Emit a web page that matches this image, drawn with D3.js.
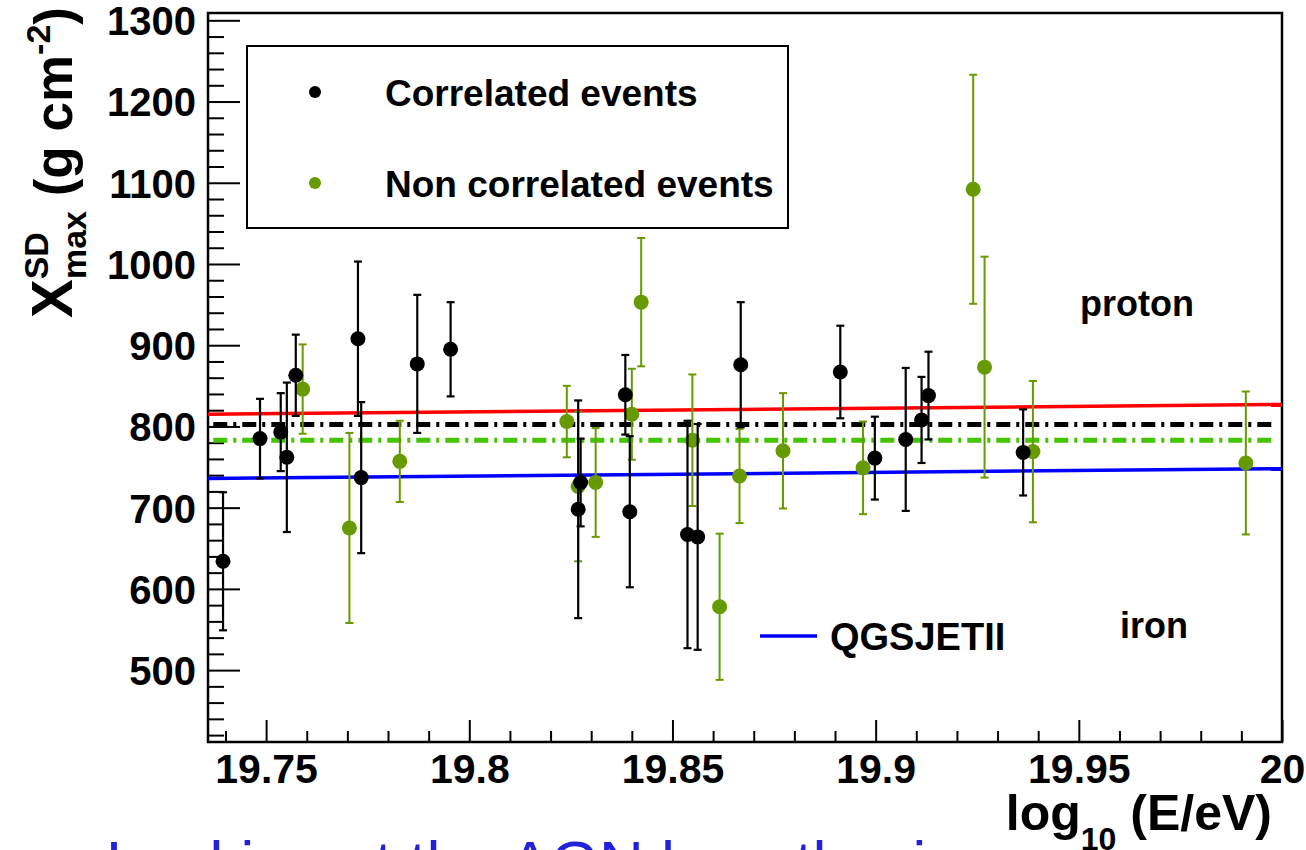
<!DOCTYPE html>
<html>
<head>
<meta charset="utf-8">
<script src="https://cdn.jsdelivr.net/npm/d3@7"></script>
<style>
  html, body { margin: 0; padding: 0; background: #fff; }
  svg { display: block; }
  text { font-family: "Liberation Sans", Arial, Helvetica, sans-serif; font-weight: bold; }
</style>
</head>
<body>
<svg id="chart" width="1306" height="850"></svg>
<script>
// ---------------- DATA ----------------
// Correlated events (black)
const corrX   = [19.7394, 19.7485, 19.7536, 19.7551, 19.7573, 19.7726, 19.7734, 19.7872, 19.7954,
                 19.8268, 19.8274, 19.8384, 19.8395, 19.8537, 19.8562, 19.8668, 19.8913, 19.8998,
                 19.9074, 19.9113, 19.9130, 19.9363];
const corrY   = [634, 785, 793, 762, 863, 908, 737, 877, 895,
                 698, 731, 839, 695, 667, 664, 876, 867, 761,
                 784, 808, 838, 768];
const corrErr = [85, 49, 48, 92, 50, 95, 93, 85, 58,
                 134, 54, 49, 93, 140, 139, 77, 57, 51,
                 88, 53, 54, 53];

// Non correlated events (green)
const nonX   = [19.7590, 19.7705, 19.7829, 19.8240, 19.8268, 19.8311, 19.8400, 19.8423, 19.8549,
                19.8616, 19.8665, 19.8772, 19.8969, 19.9240, 19.9268, 19.9387, 19.9911];
const nonY   = [846, 675, 757, 806, 726, 731, 815, 953, 783,
                578, 739, 770, 749, 1092, 873, 769, 755];
const nonErr = [55, 117, 50, 44, 92, 67, 56, 79, 81,
                90, 58, 71, 57, 141, 136, 87, 88];

// Reference lines
const lineX       = [19.7357, 20.0];
const protonLineY = [815, 827];   // red
const ironLineY   = [736, 748];   // blue (QGSJETII)
const meanX       = [19.737, 19.9985];
const meanCorr    = 802.5;        // black dash-dot
const meanNon     = 783;          // green dash-dot

// Axes
const xDomain = [19.7357, 20.0];
const yDomain = [411.5, 1309];
const xTicks  = [19.75, 19.8, 19.85, 19.9, 19.95, 20];
const xTickLabels = ["19.75", "19.8", "19.85", "19.9", "19.95", "20"];
const yTicks  = [500, 600, 700, 800, 900, 1000, 1100, 1200, 1300];

// Legend / labels
const legendLabels = ["Correlated events", "Non correlated events"];

// ---------------- DRAW ----------------
const svg = d3.select("#chart");
svg.append("rect").attr("width", 1306).attr("height", 850).attr("fill", "#fff");

const L = 208, R = 1282, T = 13, B = 742;
const x = d3.scaleLinear().domain(xDomain).range([L, R]);
const y = d3.scaleLinear().domain(yDomain).range([B, T]);

const BLACK = "#000", GREEN = "#669a00", GREENLINE = "#44c400";

// minor ticks
const yMinor = d3.range(420, 1301, 20).filter(v => v % 100 !== 0);
const xMinor = d3.range(1974, 2000, 1).map(v => v / 100).filter(v => Math.round(v * 100) % 5 !== 0);

svg.append("g").attr("transform", `translate(${L},0)`)
  .call(d3.axisLeft(y).tickValues(yMinor).tickSize(-16).tickFormat(""))
  .call(g => g.select(".domain").remove())
  .selectAll("line").attr("stroke", "#000").attr("stroke-width", 2);

svg.append("g").attr("transform", `translate(0,${B})`)
  .call(d3.axisBottom(x).tickValues(xMinor).tickSize(-11).tickFormat(""))
  .call(g => g.select(".domain").remove())
  .selectAll("line").attr("stroke", "#000").attr("stroke-width", 2);

const yAxis = svg.append("g").attr("transform", `translate(${L},0)`)
  .call(d3.axisLeft(y).tickValues(yTicks).tickSize(-32).tickPadding(12).tickFormat(d3.format("d")));
yAxis.select(".domain").remove();
yAxis.selectAll("line").attr("stroke", "#000").attr("stroke-width", 2);
yAxis.selectAll("text").attr("font-size", 40)
  .attr("font-family", "Liberation Sans, Arial, sans-serif").attr("fill", "#000").attr("dy", "0.36em");

const xAxis = svg.append("g").attr("transform", `translate(0,${B})`)
  .call(d3.axisBottom(x).tickValues(xTicks).tickSize(-22).tickPadding(12)
        .tickFormat((d, i) => xTickLabels[i]));
xAxis.select(".domain").remove();
xAxis.selectAll("line").attr("stroke", "#000").attr("stroke-width", 2);
xAxis.selectAll("text").attr("font-size", 41)
  .attr("font-family", "Liberation Sans, Arial, sans-serif").attr("fill", "#000");

// frame
svg.append("rect").attr("x", L).attr("y", T).attr("width", R - L).attr("height", B - T)
  .attr("fill", "none").attr("stroke", "#000").attr("stroke-width", 2.5);

// model lines
const line = d3.line().x(d => x(d[0])).y(d => y(d[1]));
svg.append("path").attr("d", line(lineX.map((v, i) => [v, protonLineY[i]])))
  .attr("stroke", "#ff0000").attr("stroke-width", 3.5).attr("fill", "none");
svg.append("path").attr("d", line(lineX.map((v, i) => [v, ironLineY[i]])))
  .attr("stroke", "#0000ff").attr("stroke-width", 3.5).attr("fill", "none");

// mean dash-dot lines
svg.append("path").attr("d", line(meanX.map(v => [v, meanCorr])))
  .attr("stroke", BLACK).attr("stroke-width", 5).attr("stroke-dasharray", "14,6,3,6").attr("fill", "none");
svg.append("path").attr("d", line(meanX.map(v => [v, meanNon])))
  .attr("stroke", GREENLINE).attr("stroke-width", 5).attr("stroke-dasharray", "14,6,3,6").attr("fill", "none");

// data series
function drawSeries(xs, ys, es, color, lw) {
  const data = xs.map((v, i) => ({ x: v, y: ys[i], e: es[i] }));
  const g = svg.append("g");
  const eb = g.selectAll("g.eb").data(data).join("g").attr("class", "eb");
  eb.append("line").attr("x1", d => x(d.x)).attr("x2", d => x(d.x))
    .attr("y1", d => y(d.y + d.e)).attr("y2", d => y(d.y - d.e))
    .attr("stroke", color).attr("stroke-width", lw);
  [1, -1].forEach(s => {
    eb.append("line").attr("x1", d => x(d.x) - 4).attr("x2", d => x(d.x) + 4)
      .attr("y1", d => y(d.y + s * d.e)).attr("y2", d => y(d.y + s * d.e))
      .attr("stroke", color).attr("stroke-width", lw);
  });
  g.selectAll("circle").data(data).join("circle")
    .attr("cx", d => x(d.x)).attr("cy", d => y(d.y)).attr("r", 7.5).attr("fill", color);
}
drawSeries(nonX, nonY, nonErr, GREEN, 2);
drawSeries(corrX, corrY, corrErr, BLACK, 2.2);

// legend
svg.append("rect").attr("x", 247).attr("y", 46).attr("width", 541).attr("height", 182)
  .attr("fill", "#fff").attr("stroke", "#000").attr("stroke-width", 2);
[BLACK, GREEN].forEach((c, i) => {
  svg.append("circle").attr("cx", 315).attr("cy", 92 + i * 91).attr("r", 6).attr("fill", c);
  svg.append("text").attr("x", 385).attr("y", 93 + i * 91).attr("dy", "0.36em")
    .attr("font-size", 37).attr("fill", "#000").text(legendLabels[i]);
});

// QGSJETII label
svg.append("line").attr("x1", 760).attr("x2", 817).attr("y1", 636).attr("y2", 636)
  .attr("stroke", "#0000ff").attr("stroke-width", 3.5);
svg.append("text").attr("x", 830).attr("y", 636).attr("dy", "0.36em")
  .attr("font-size", 38).attr("fill", "#000").text("QGSJETII");

svg.append("text").attr("x", 1080).attr("y", 303).attr("dy", "0.36em")
  .attr("font-size", 36).attr("fill", "#000").text("proton");
svg.append("text").attr("x", 1120).attr("y", 625).attr("dy", "0.36em")
  .attr("font-size", 36).attr("fill", "#000").text("iron");

// X axis title
const xt = svg.append("text").attr("x", 1272).attr("y", 830).attr("text-anchor", "end")
  .attr("font-size", 50).attr("fill", "#000");
xt.append("tspan").text("log");
xt.append("tspan").attr("font-size", 32).attr("dy", 20).text("10");
xt.append("tspan").attr("dy", -20).text(" (E/eV)");

// Y axis title
const yt = svg.append("text").attr("transform", "translate(72,318) rotate(-90)")
  .attr("font-size", 53).attr("fill", "#000");
yt.append("tspan").attr("font-size", 58).text("X");
yt.append("tspan").attr("font-size", 34).attr("dy", -24).text("SD");
yt.append("tspan").attr("font-size", 34).attr("dx", -47).attr("dy", 38).text("max");
yt.append("tspan").attr("dy", -14).text(" (g cm");
yt.append("tspan").attr("font-size", 34).attr("dy", -22).text("-2");
yt.append("tspan").attr("dy", 22).text(")");

// clipped blue caption at the bottom (only its top is visible)
svg.append("text").attr("x", 106).attr("y", 884).attr("font-size", 62)
  .style("font-weight", "normal").attr("fill", "#2222dd").text("Looking at the AGN hypothesis");
</script>
</body>
</html>
